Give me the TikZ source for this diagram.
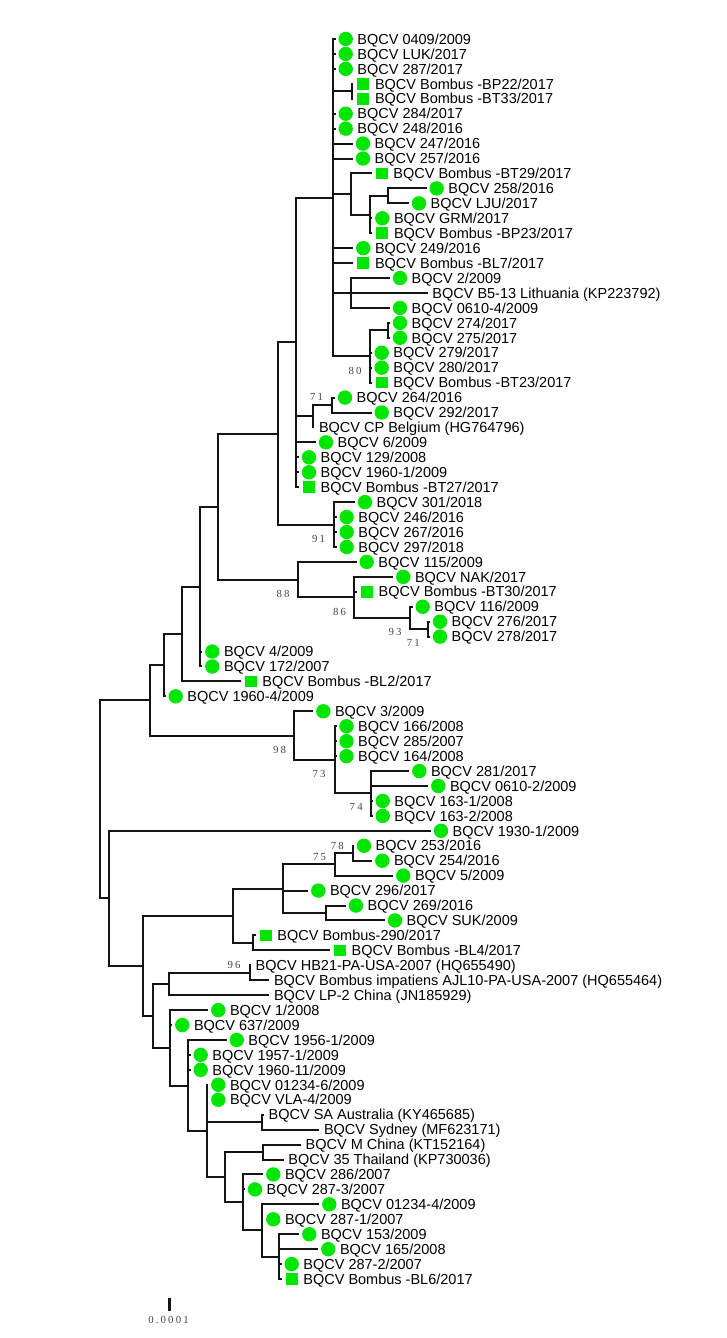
\documentclass[tikz,border=0pt]{standalone}
\usepackage{fontspec}
\newfontfamily\lbf{Liberation Sans}
\newfontfamily\bsf[LetterSpace=20]{Liberation Serif}
\definecolor{mkgreen}{RGB}{0,230,0}
\definecolor{bsgray}{RGB}{70,70,70}
\definecolor{brcol}{RGB}{20,20,20}
\tikzset{
  br/.style={draw=brcol, line width=2pt, line cap=rect},
  mc/.style={circle, fill=mkgreen, minimum size=14.4pt, inner sep=0pt},
  ms/.style={rectangle, fill=mkgreen, minimum size=11.7pt, inner sep=0pt},
  lab/.style={anchor=base west, inner sep=0pt, font=\lbf\fontsize{14.5}{17}\selectfont},
  bs/.style={inner sep=0pt, text=bsgray, font=\bsf\fontsize{10.8}{12}\selectfont}
}
\newcommand\leafM[5]{%
  \pgfmathsetmacro\lfy{39+(#1-1)*14.94}%
  \pgfmathsetmacro\lfx{#3-11}%
  \coordinate (e#1) at (\lfx,\lfy);
  \draw[br] (#2) |- (e#1);
  \node[#4] (m#1) at (#3,\lfy) {};
  \node[lab] (t#1) at ({#3+11.5},{\lfy+5.2}) {#5};
}
\newcommand\leafN[4]{%
  \pgfmathsetmacro\lfy{39+(#1-1)*14.94}%
  \coordinate (e#1) at (#3,\lfy);
  \draw[br] (#2) |- (e#1);
  \node[lab] (t#1) at ({#3+5.5},{\lfy+5.2}) {#4};
}
\begin{document}
\begin{tikzpicture}[x=1pt,y=-1pt]
\fill[white] (0,0) rectangle (727,1338);
\path[use as bounding box] (0,0) rectangle (727,1338);
% internal nodes
\coordinate (U) at (100,799.36);
\coordinate (Q) at (150,700.38);
\coordinate (V) at (109.3,898.33);
\coordinate (P) at (164,665.17);
\coordinate (O) at (182,633.98);
\coordinate (N) at (200,586.53);
\coordinate (I) at (218.3,506.58);
\coordinate (H) at (277.5,433.51);
\coordinate (G) at (296,342.47);
\coordinate (Mn) at (332.7,197.74);
\coordinate (n45) at (351.7,91.29);
\coordinate (A) at (350.7,194.0);
\coordinate (C) at (370,214.55);
\coordinate (D) at (387.7,195.87);
\coordinate (F) at (350.7,292.98);
\coordinate (E) at (370,356.48);
\coordinate (AP) at (388.3,330.33);
\coordinate (CP) at (313.3,416.24);
\coordinate (n71) at (331.7,405.03);
\coordinate (n91) at (334.3,524.55);
\coordinate (n88) at (297.7,579.64);
\coordinate (n86) at (354,597.38);
\coordinate (n93) at (410,617.93);
\coordinate (m71) at (428.3,629.13);
\coordinate (n98) at (294.3,735.58);
\coordinate (n73) at (335,759.86);
\coordinate (n74) at (371,793.47);
\coordinate (W) at (143.3,965.84);
\coordinate (X) at (233.3,915.8);
\coordinate (Z) at (282.7,888.72);
\coordinate (n75) at (335,864.44);
\coordinate (n78) at (352.7,853.23);
\coordinate (AB) at (326,912.99);
\coordinate (AA) at (253.3,942.87);
\coordinate (Y) at (152.7,1015.88);
\coordinate (AE) at (169.3,983.96);
\coordinate (n96) at (250,972.75);
\coordinate (AF) at (170,1047.8);
\coordinate (AH) at (188.3,1085.5);
\coordinate (AI) at (206.7,1131.03);
\coordinate (AJ) at (261.7,1122.15);
\coordinate (AK) at (225,1177.25);
\coordinate (AL) at (262.7,1152.03);
\coordinate (AM) at (243.3,1202.46);
\coordinate (AN) at (261.7,1230.47);
\coordinate (AO) at (279.3,1256.61);
% internal edges
\foreach \p/\c in {U/Q,U/V,Q/P,Q/n98,P/O,O/N,N/I,I/H,I/n88,H/G,H/n91,G/Mn,G/CP,CP/n71,
  Mn/n45,Mn/A,A/C,C/D,Mn/F,Mn/E,E/AP,n88/n86,n86/n93,n93/m71,n98/n73,n73/n74,
  V/W,W/X,W/Y,X/Z,X/AA,Z/n75,n75/n78,Z/AB,Y/AE,AE/n96,Y/AF,AF/AH,AH/AI,AI/AJ,AI/AK,
  AK/AL,AK/AM,AM/AN,AN/AO}{\draw[br] (\p) |- (\c);}
% leaves
\leafM{1}{Mn}{345.7}{mc}{BQCV 0409/2009}
\leafM{2}{Mn}{345.7}{mc}{BQCV LUK/2017}
\leafM{3}{Mn}{345.7}{mc}{BQCV 287/2017}
\leafM{4}{n45}{363.3}{ms}{BQCV Bombus -BP22/2017}
\leafM{5}{n45}{363.3}{ms}{BQCV Bombus -BT33/2017}
\leafM{6}{Mn}{345.7}{mc}{BQCV 284/2017}
\leafM{7}{Mn}{345.7}{mc}{BQCV 248/2016}
\leafM{8}{Mn}{363}{mc}{BQCV 247/2016}
\leafM{9}{Mn}{363}{mc}{BQCV 257/2016}
\leafM{10}{A}{381.7}{ms}{BQCV Bombus -BT29/2017}
\leafM{11}{D}{436.7}{mc}{BQCV 258/2016}
\leafM{12}{D}{419}{mc}{BQCV LJU/2017}
\leafM{13}{C}{382.3}{mc}{BQCV GRM/2017}
\leafM{14}{C}{382.3}{ms}{BQCV Bombus -BP23/2017}
\leafM{15}{Mn}{363.3}{mc}{BQCV 249/2016}
\leafM{16}{Mn}{363.3}{ms}{BQCV Bombus -BL7/2017}
\leafM{17}{F}{400}{mc}{BQCV 2/2009}
\leafN{18}{F}{426.7}{BQCV B5-13 Lithuania (KP223792)}
\leafM{19}{F}{400}{mc}{BQCV 0610-4/2009}
\leafM{20}{AP}{400}{mc}{BQCV 274/2017}
\leafM{21}{AP}{400}{mc}{BQCV 275/2017}
\leafM{22}{E}{381.7}{mc}{BQCV 279/2017}
\leafM{23}{E}{381.7}{mc}{BQCV 280/2017}
\leafM{24}{E}{381.7}{ms}{BQCV Bombus -BT23/2017}
\leafM{25}{n71}{345}{mc}{BQCV 264/2016}
\leafM{26}{n71}{381.7}{mc}{BQCV 292/2017}
\leafN{27}{CP}{313.3}{BQCV CP Belgium (HG764796)}
\leafM{28}{G}{326}{mc}{BQCV 6/2009}
\leafM{29}{G}{309}{mc}{BQCV 129/2008}
\leafM{30}{G}{309}{mc}{BQCV 1960-1/2009}
\leafM{31}{G}{309}{ms}{BQCV Bombus -BT27/2017}
\leafM{32}{n91}{365}{mc}{BQCV 301/2018}
\leafM{33}{n91}{346.7}{mc}{BQCV 246/2016}
\leafM{34}{n91}{346.7}{mc}{BQCV 267/2016}
\leafM{35}{n91}{346.7}{mc}{BQCV 297/2018}
\leafM{36}{n88}{366.7}{mc}{BQCV 115/2009}
\leafM{37}{n86}{403.3}{mc}{BQCV NAK/2017}
\leafM{38}{n86}{367}{ms}{BQCV Bombus -BT30/2017}
\leafM{39}{n93}{422.7}{mc}{BQCV 116/2009}
\leafM{40}{m71}{440}{mc}{BQCV 276/2017}
\leafM{41}{m71}{440}{mc}{BQCV 278/2017}
\leafM{42}{N}{212.3}{mc}{BQCV 4/2009}
\leafM{43}{N}{212.3}{mc}{BQCV 172/2007}
\leafM{44}{O}{250.7}{ms}{BQCV Bombus -BL2/2017}
\leafM{45}{P}{175.7}{mc}{BQCV 1960-4/2009}
\leafM{46}{n98}{323.3}{mc}{BQCV 3/2009}
\leafM{47}{n73}{346.5}{mc}{BQCV 166/2008}
\leafM{48}{n73}{346.5}{mc}{BQCV 285/2007}
\leafM{49}{n73}{346.5}{mc}{BQCV 164/2008}
\leafM{50}{n74}{419.3}{mc}{BQCV 281/2017}
\leafM{51}{n74}{438.3}{mc}{BQCV 0610-2/2009}
\leafM{52}{n74}{382.7}{mc}{BQCV 163-1/2008}
\leafM{53}{n74}{382.7}{mc}{BQCV 163-2/2008}
\leafM{54}{V}{441}{mc}{BQCV 1930-1/2009}
\leafM{55}{n78}{364}{mc}{BQCV 253/2016}
\leafM{56}{n78}{382.3}{mc}{BQCV 254/2016}
\leafM{57}{n75}{403.3}{mc}{BQCV 5/2009}
\leafM{58}{Z}{318.3}{mc}{BQCV 296/2017}
\leafM{59}{AB}{356}{mc}{BQCV 269/2016}
\leafM{60}{AB}{395}{mc}{BQCV SUK/2009}
\leafM{61}{AA}{265.7}{ms}{BQCV Bombus-290/2017}
\leafM{62}{AA}{340}{ms}{BQCV Bombus -BL4/2017}
\leafN{63}{n96}{250}{BQCV HB21-PA-USA-2007 (HQ655490)}
\leafN{64}{n96}{268.3}{BQCV Bombus impatiens AJL10-PA-USA-2007 (HQ655464)}
\leafN{65}{AE}{268.3}{BQCV LP-2 China (JN185929)}
\leafM{66}{AF}{218.3}{mc}{BQCV 1/2008}
\leafM{67}{AF}{182.3}{mc}{BQCV 637/2009}
\leafM{68}{AH}{236.7}{mc}{BQCV 1956-1/2009}
\leafM{69}{AH}{200.7}{mc}{BQCV 1957-1/2009}
\leafM{70}{AH}{200.7}{mc}{BQCV 1960-11/2009}
\leafM{71}{AI}{218.3}{mc}{BQCV 01234-6/2009}
\leafM{72}{AI}{218.3}{mc}{BQCV VLA-4/2009}
\leafN{73}{AJ}{263}{BQCV SA Australia (KY465685)}
\leafN{74}{AJ}{318.3}{BQCV Sydney (MF623171)}
\leafN{75}{AL}{300}{BQCV M China (KT152164)}
\leafN{76}{AL}{282.7}{BQCV 35 Thailand (KP730036)}
\leafM{77}{AM}{273.3}{mc}{BQCV 286/2007}
\leafM{78}{AM}{255}{mc}{BQCV 287-3/2007}
\leafM{79}{AN}{329.3}{mc}{BQCV 01234-4/2009}
\leafM{80}{AN}{273.3}{mc}{BQCV 287-1/2007}
\leafM{81}{AO}{309.3}{mc}{BQCV 153/2009}
\leafM{82}{AO}{328.3}{mc}{BQCV 165/2008}
\leafM{83}{AO}{291.7}{mc}{BQCV 287-2/2007}
\leafM{84}{AO}{291.7}{ms}{BQCV Bombus -BL6/2017}
% bootstrap values
\node[bs] (b71a) at (316.5,397) {71};
\node[bs] (b80) at (355,370.7) {80};
\node[bs] (b91) at (318.5,538.5) {91};
\node[bs] (b88) at (283,593.5) {88};
\node[bs] (b86) at (339.5,611.7) {86};
\node[bs] (b93) at (395,632) {93};
\node[bs] (b71b) at (413.3,643) {71};
\node[bs] (b98) at (279.5,749.5) {98};
\node[bs] (b73) at (319,774.3) {73};
\node[bs] (b74) at (356.2,807) {74};
\node[bs] (b78) at (337.3,845.5) {78};
\node[bs] (b75) at (319.5,856.7) {75};
\node[bs] (b96) at (234,965) {96};
% scale bar
\coordinate (sb1) at (169,1298.3);
\coordinate (sb2) at (169,1310.7);
\draw[draw=brcol, line width=3pt] (sb1) -- (sb2);
\node[bs] (sbl) at (168.5,1320) {0.0001};
\end{tikzpicture}
\end{document}
